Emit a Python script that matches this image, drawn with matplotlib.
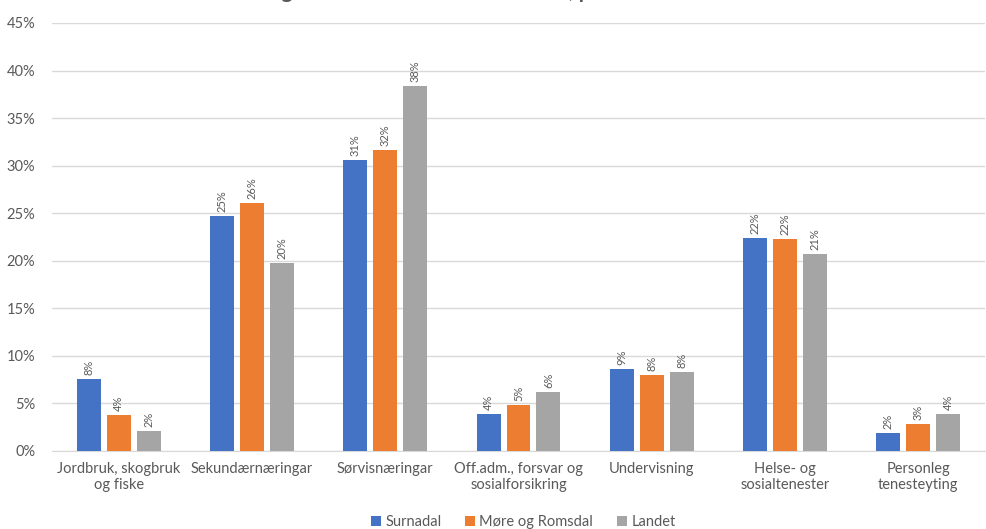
import matplotlib.pyplot as plt
import numpy as np

# data
categories = ['Jordbruk, skogbruk\nog fiske', 'Sekundærnæringar', 'Sørvisnæringar',
              'Off.adm., forsvar og\nsosialforsikring', 'Undervisning',
              'Helse- og\nsosialtenester', 'Personleg\ntenesteyting']
series_names = ['Surnadal', 'Møre og Romsdal', 'Landet']
surnadal = [7.6, 24.7, 30.6, 3.9, 8.6, 22.4, 1.9]
more_romsdal = [3.8, 26.1, 31.6, 4.8, 8.0, 22.3, 2.8]
landet = [2.1, 19.8, 38.4, 6.2, 8.3, 20.7, 3.9]
yticks = [0, 5, 10, 15, 20, 25, 30, 35, 40, 45]
title = 'Tilsette etter næring i kommunen mot heile landet, prosent'

colors = ['#4472C4', '#ED7D31', '#A5A5A5']
text_col = '#595959'

plt.rcParams['font.family'] = ['Lato', 'DejaVu Sans']

fig = plt.figure(figsize=(9.87, 5.29), dpi=100)
ax = fig.add_axes([52 / 987, 78 / 529, 933 / 987, (451 - 23) / 529])

x = np.arange(len(categories))
width = 0.18
step = 0.225
for i, (vals, name) in enumerate(zip([surnadal, more_romsdal, landet], series_names)):
    pos = x + (i - 1) * step
    bars = ax.bar(pos, vals, width, color=colors[i], label=name, zorder=3)
    for b, v in zip(bars, vals):
        ax.annotate(f'{round(v):.0f}%', (b.get_x() + b.get_width() / 2, v),
                    xytext=(0, 3), textcoords='offset points', rotation=90,
                    ha='center', va='bottom', fontsize=8, color=text_col)

ax.set_xlim(-0.5, len(categories) - 0.5)
ax.set_ylim(0, 45)
ax.set_yticks(yticks)
ax.set_yticklabels([f'{t}%' for t in yticks])
ax.set_xticks(x)
ax.set_xticklabels(categories)
ax.tick_params(axis='both', length=0, colors=text_col)
ax.tick_params(axis='y', pad=12, labelsize=10.5)
ax.tick_params(axis='x', pad=8, labelsize=10.5)
ax.grid(axis='y', color='#d9d9d9', linewidth=1, zorder=0)
for s in ['top', 'right', 'left']:
    ax.spines[s].set_visible(False)
ax.spines['bottom'].set_color('#d9d9d9')

# title sits above the canvas, only its descenders show (as in the source)
fig.text(0.103, 1.0 + 2 / 529, title, ha='left', va='baseline',
         fontsize=15, fontweight='bold', color=text_col)

fig.legend(loc='lower center', bbox_to_anchor=(0.53, -0.025), ncol=3, frameon=False,
           fontsize=10.5, handlelength=0.7, handleheight=0.7, handletextpad=0.3,
           columnspacing=1.6, labelcolor=text_col)

fig.savefig('out.png', dpi=100)
